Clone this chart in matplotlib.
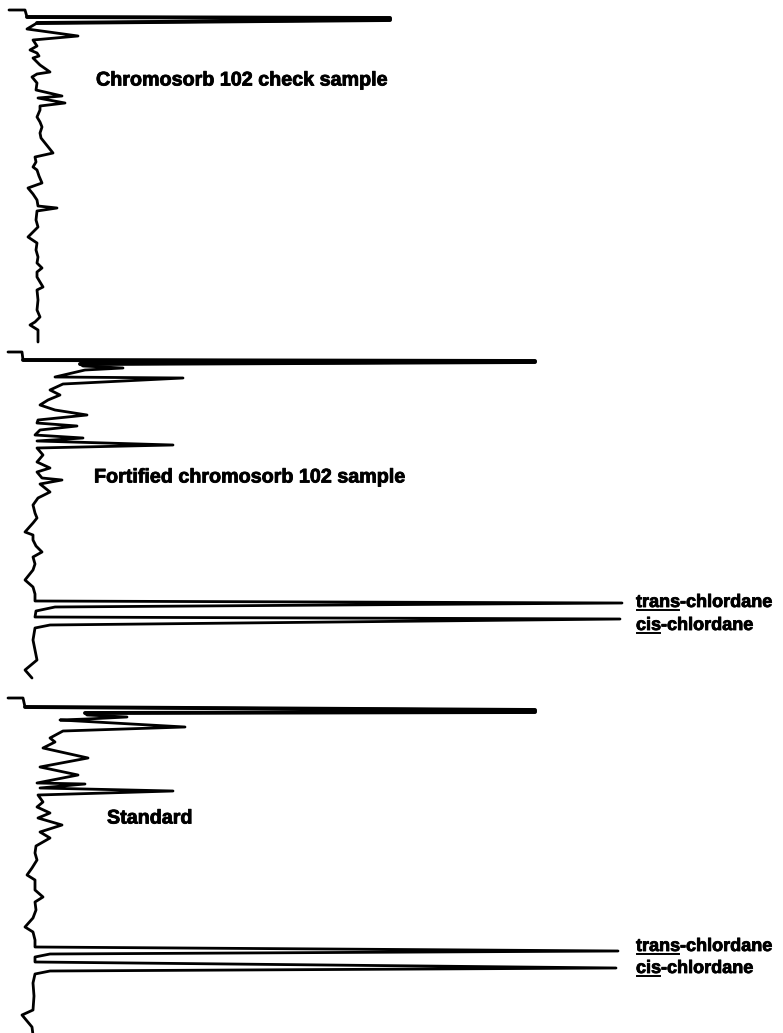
import matplotlib.pyplot as plt
import matplotlib.patheffects as pe

# Three gas chromatograms drawn with time running down the page and the
# detector response pointing to the right.  time = rows after the pen start,
# resp = deflection from the baseline (negative = drift to the left).

check_time = [0, 0, 7, 8, 10, 13, 19, 26, 30, 36, 40, 43, 46, 48, 55, 62, 64, 67, 73, 80,
              86, 88, 93, 96, 100, 107, 112, 117, 123, 128, 133, 143, 147, 152, 157, 160,
              166, 173, 178, 184, 190, 196, 198, 201, 210, 217, 222, 227, 233, 240, 247,
              253, 258, 262, 267, 272, 277, 280, 290, 300, 307, 312, 315, 320, 332]
check_resp = [-26, -10, -8, 355, 355, 2, -8, 43, -2, 2, -5, 2, 4, -2, 5, 15, 2, -3, 2, 1,
              27, 3, 30, 5, 5, 2, 5, 7, 5, 6, 10, 18, 0, 1, -2, 2,
              4, 7, -7, -2, 2, 3, 22, 2, 1, 3, -2, -7, 2, 1, 3,
              2, 7, 2, 2, 5, 8, 2, 3, 2, 5, 0, -5, 3, 3]

fort_time = [0, 0, 8, 9, 10, 12, 14, 16, 18, 25, 26, 32, 38, 43, 48, 53, 58, 63, 68, 71,
             74, 78, 83, 86, 89, 93, 96, 103, 110, 116, 120, 126, 128, 132, 140, 146, 153,
             161, 166, 171, 180, 183, 188, 194, 200, 205, 212, 218, 228, 235, 242, 249, 251,
             255, 259, 265, 267, 273, 276, 288, 298, 308, 318, 326]
fort_resp = [-27, -13, -12, 500, 500, 45, 48, 88, 50, 20, 148, 28, 15, 25, 13, 5, 20, 52, 3, 2,
             42, 5, 0, 48, 2, 138, 2, 8, 2, 15, 2, 7, 27, 5, 15, 3, -2,
             0, 2, -2, -10, -2, -2, 1, 7, -2, 0, -2, -10, -2, 0, 0, 587,
             20, 1, 0, 585, 15, 0, -2, 0, 2, -10, -3]

std_time = [0, 0, 9, 12, 14, 15, 17, 19, 21, 22, 29, 33, 40, 44, 50, 60, 69, 77, 85, 86,
            90, 93, 97, 104, 109, 115, 120, 127, 134, 140, 148, 155, 162, 170, 177, 182,
            192, 199, 204, 212, 220, 229, 234, 242, 249, 253, 256, 259, 264, 270, 273,
            276, 285, 298, 312, 317, 329, 337]
std_resp = [-27, -12, -10, 500, 500, 50, 52, 92, 52, 25, 150, 28, 15, 20, 8, 53, 5, 43, 2, 50,
            5, 138, 3, 8, 2, 15, 3, 27, 5, 15, 1, 0, 2, -3, -8, 0,
            0, 8, 0, 1, -2, -10, -2, 0, 0, 583, 15, 0, 0, 581, 15,
            0, -2, -1, -2, -13, -3, -2]

sample_names = ["Chromosorb 102 check sample", "Fortified chromosorb 102 sample", "Standard"]
peak_words = ["trans", "cis"]

traces = [(check_time, check_resp), (fort_time, fort_resp), (std_time, std_resp)]
panel_top = [10, 352, 698]
baseline_x = 35
name_pos = [(96, 80), (94, 477), (107, 818)]
peak_label_y = [(602, 625), (946, 968)]

W, H = 783, 1033
fig = plt.figure(figsize=(W / 100, H / 100), dpi=100)
ax = fig.add_axes([0, 0, 1, 1])
ax.set_xlim(0, W)
ax.set_ylim(H, 0)
ax.axis("off")

for (t, r), top in zip(traces, panel_top):
    xs = [baseline_x + v for v in r]
    ys = [top + v for v in t]
    ax.plot(xs, ys, color="black", lw=2.0, solid_joinstyle="round", solid_capstyle="round")
    # solvent front is inked heavier
    ax.plot(xs[2:6], ys[2:6], color="black", lw=2.8, solid_joinstyle="round",
            solid_capstyle="round")

ink = [pe.withStroke(linewidth=0.6, foreground="black")]
font = dict(family="Liberation Sans", weight="bold", fontsize=14.2, color="black",
            path_effects=ink)
for name, (x, y) in zip(sample_names, name_pos):
    ax.text(x, y, name, va="center", ha="left", **font)

fig.canvas.draw()
renderer = fig.canvas.get_renderer()
inv = ax.transData.inverted()
small = dict(font, fontsize=13.0)


def underlined_label(x, y, word, rest):
    t1 = ax.text(x, y, word, va="baseline", ha="left", **small)
    bb = t1.get_window_extent(renderer)
    (x0, _), (x1, _) = inv.transform([[bb.x0, bb.y0], [bb.x1, bb.y1]])
    ax.text(x1, y, rest, va="baseline", ha="left", **small)
    ax.plot([x0 + 1, x1 - 1], [y + 2.5, y + 2.5], color="black", lw=1.4)


for pair in peak_label_y:
    for word, y in zip(peak_words, pair):
        underlined_label(636, y + 5, word, "-chlordane")

fig.savefig("out.png", dpi=100)
